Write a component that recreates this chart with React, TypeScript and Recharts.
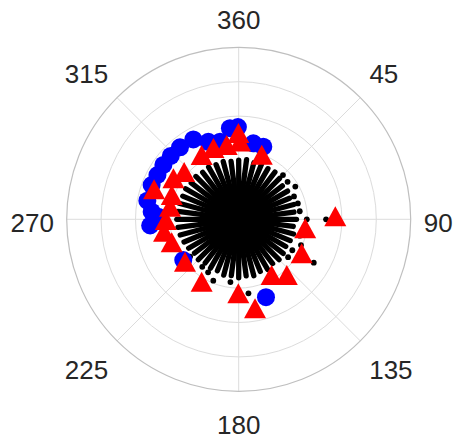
import React from "react";
import {
  PolarAngleAxis,
  PolarGrid,
  PolarRadiusAxis,
  RadarChart,
  Scatter,
  ScatterChart,
  XAxis,
  YAxis,
} from "recharts";

// polar data: angle in degrees (clockwise from north), radius in axis units
const angleTicks = [0, 45, 90, 135, 180, 225, 270, 315];
const angleTickLabels = ["360", "45", "90", "135", "180", "225", "270", "315"];
const radiusTicks = [30, 40, 50];

const stemAngles = [
  0, 7.5, 15, 22.5, 30, 37.5, 45, 52.5, 60, 67.5, 75, 82.5, 90, 97.5, 105,
  112.5, 120, 127.5, 135, 142.5, 150, 157.5, 165, 172.5, 180, 187.5, 195, 202.5,
  210, 217.5, 225, 232.5, 240, 247.5, 255, 262.5, 270, 277.5, 285, 292.5, 300,
  307.5, 315, 322.5, 330, 337.5, 345, 352.5,
];
const stemLengths = [
  17.2, 17.5, 17.0, 17.4, 17.0, 17.3, 16.8, 16.0, 16.4, 16.0, 16.6, 16.2, 16.8,
  16.0, 16.5, 16.2, 15.8, 16.3, 16.6, 16.2, 16.8, 16.4, 17.0, 16.6, 17.0, 16.5,
  16.8, 16.2, 16.4, 16.0, 16.6, 16.2, 16.8, 17.2, 17.6, 17.8, 18.0, 17.8, 18.0,
  17.6, 17.8, 17.4, 17.6, 17.2, 17.5, 17.2, 17.4, 17.0,
];

const tipDotAngles = [
  45, 52.5, 60, 67.5, 75, 82.5, 90, 90, 105, 112.5, 120, 120, 127.5, 172.5,
  187.5, 202.5, 210, 217.5, 232.5, 270,
];
const tipDotRadii = [
  18.2, 17.9, 19.0, 17.4, 17.8, 17.9, 19.8, 25.4, 18.4, 19.6, 18.0, 25.2, 18.1,
  21.7, 18.4, 19.3, 17.8, 17.4, 17.8, 25.8,
];

const blueAngles = [
  359.5, 10.9, 18.7, 354.5, 346.5, 338.6, 330.4, 320.8, 313, 305.8, 298.6,
  291.5, 281.5, 275, 271.9, 266, 233.7, 160.7,
];
const blueRadii = [
  26.8, 22.5, 22.3, 26.6, 23.2, 24.2, 26.7, 27, 27, 27, 26.9, 27.2, 27.1, 25.4,
  23.4, 25.8, 20, 24,
];

const redAngles = [
  359.8, 1, 350.8, 340.5, 330.1, 19.7, 311, 302.1, 289.5, 290, 280.4, 269.5,
  260.5, 251, 231.7, 210.7, 180.3, 169.6, 149.4, 139.2, 118.4, 97.7, 88.2,
];
const redRadii = [
  25.1, 22.6, 21.9, 22, 21.6, 19.9, 21, 22.4, 26.1, 20.7, 20.3, 21.2, 22, 20.6,
  19.9, 21.1, 21.5, 26.3, 18.8, 21.4, 20.8, 19.5, 28.1,
];

const W = 455;
const H = 442;
const CX = 238.7;
const CY = 219.3;
const R = 172;
const FONT = "'Liberation Sans', Arial, sans-serif";
const TEXT = "#262626";

const toXY = (deg: number, r: number) => {
  const t = (deg * Math.PI) / 180;
  return { x: r * Math.sin(t), y: r * Math.cos(t) };
};

const tipDots = tipDotAngles.map((a, i) => toXY(a, tipDotRadii[i]));
const bluePoints = blueAngles.map((a, i) => toXY(a, blueRadii[i]));
const redPoints = redAngles.map((a, i) => toXY(a, redRadii[i]));
const gridRows = angleTicks.map((a) => ({ angle: a }));

function AngleTick(props: any) {
  const v = props.payload.value;
  const i = angleTicks.indexOf(v);
  const label = angleTickLabels[i] ?? String(v);
  const t = (v * Math.PI) / 180;
  const s = Math.sin(t);
  const c = Math.cos(t);
  const ra = R + 13.5;
  const half = 7 * label.length;
  let x = CX + ra * s;
  let y = CY - ra * c;
  if (s > 0.01) x += half;
  if (s < -0.01) x -= half;
  if (c > 0.01) y -= 14;
  else if (c < -0.01) y += 19.5;
  else y += 3;
  return (
    <text x={x} y={y + 9.3} textAnchor="middle" fontSize={26} fontFamily={FONT} fill={TEXT}>
      {label}
    </text>
  );
}

function RadiusTick(props: any) {
  return (
    <text x={props.x} y={props.y + 11.8} textAnchor="middle" fontSize={26} fontFamily={FONT} fill={TEXT}>
      {props.payload.value}
    </text>
  );
}

const noShape = () => <g />;
const dotShape = (p: any) => <circle cx={p.cx} cy={p.cy} r={2.9} fill="#000" />;
const blueShape = (p: any) => <circle cx={p.cx} cy={p.cy} r={9} fill="#0000ff" />;
const redShape = (p: any) => (
  <polygon
    points={`${p.cx},${p.cy - 10} ${p.cx - 11},${p.cy + 10} ${p.cx + 11},${p.cy + 10}`}
    fill="#ff0000"
  />
);

export default function App() {
  return (
    <div style={{ position: "absolute", left: 0, top: 0, width: W, height: H, background: "#fff" }}>
      <div style={{ position: "absolute", left: 0, top: 0 }}>
        <RadarChart
          width={W}
          height={H}
          data={gridRows}
          cx={CX}
          cy={CY}
          innerRadius={0}
          outerRadius={R}
          startAngle={90}
          endAngle={-270}
          margin={{ top: 0, right: 0, bottom: 0, left: 0 }}
        >
          <PolarGrid
            gridType="circle"
            polarRadius={[34.4, 68.8, 103.2, 137.6]}
            polarAngles={[90, 45, 0, -45, -90, -135, -180, -225]}
            stroke="#dcdcdc"
            strokeWidth={1}
          />
          <PolarAngleAxis
            dataKey="angle"
            type="number"
            domain={[0, 360]}
            ticks={angleTicks}
            tickLine={false}
            axisLineType="circle"
            axisLine={{ stroke: "#bfbfbf", strokeWidth: 1.2 }}
            tick={AngleTick}
          />
          <PolarRadiusAxis
            angle={80.5}
            type="number"
            domain={[0, 50]}
            ticks={radiusTicks}
            axisLine={false}
            tickLine={false}
            tick={RadiusTick}
          />
        </RadarChart>
      </div>
      <div style={{ position: "absolute", left: 0, top: 0 }}>
        <ScatterChart
          width={W}
          height={H}
          margin={{ top: CY - R, right: W - CX - R, bottom: H - CY - R, left: CX - R }}
        >
          <XAxis type="number" dataKey="x" domain={[-50, 50]} hide allowDataOverflow />
          <YAxis type="number" dataKey="y" domain={[-50, 50]} hide allowDataOverflow />
          {stemAngles.map((a, i) => (
            <Scatter
              key={`stem-${a}`}
              data={[{ x: 0, y: 0 }, toXY(a, stemLengths[i])]}
              fill="#000"
              line={{ stroke: "#000", strokeWidth: 5.3, strokeLinecap: "round" }}
              shape={noShape}
              isAnimationActive={false}
            />
          ))}
          <Scatter data={tipDots} shape={dotShape} fill="#000" isAnimationActive={false} />
          <Scatter data={bluePoints} shape={blueShape} fill="#0000ff" isAnimationActive={false} />
          <Scatter data={redPoints} shape={redShape} fill="#ff0000" isAnimationActive={false} />
        </ScatterChart>
      </div>
    </div>
  );
}
